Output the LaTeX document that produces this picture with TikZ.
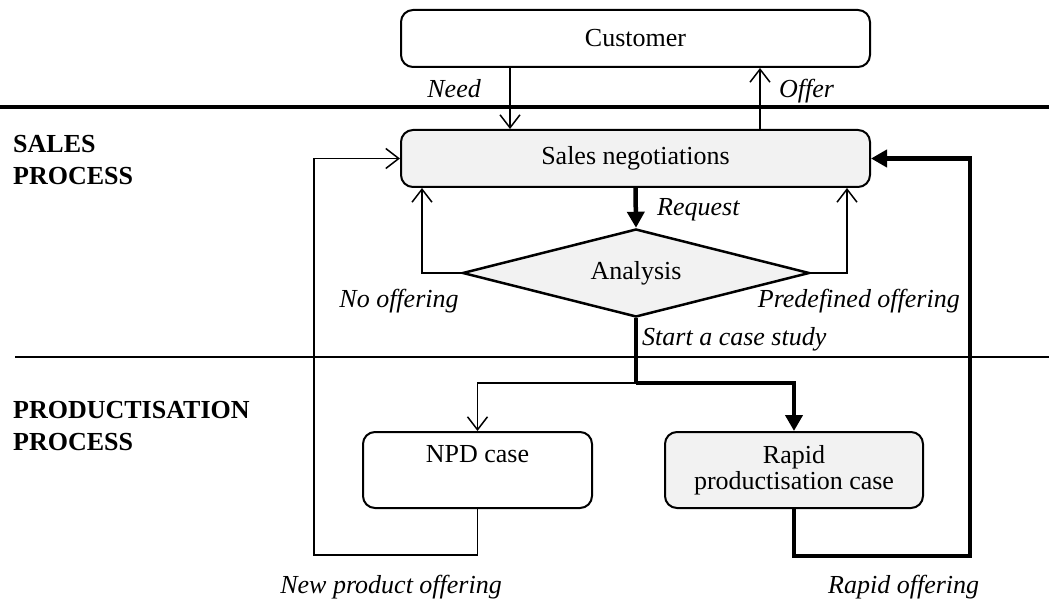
\documentclass[tikz,border=0pt]{standalone}
\usepackage{fontspec}
\setmainfont{Liberation Serif}
\usetikzlibrary{arrows.meta,shapes.geometric}

\tikzset{
  txt/.style={font=\fontsize{26}{26}\selectfont, inner sep=0pt},
  lbl/.style={txt, font=\fontsize{26}{26}\selectfont\itshape},
  head/.style={txt, font=\fontsize{26}{32}\selectfont\bfseries, align=left},
  box/.style={draw, line width=2pt, rounded corners=12pt, txt, align=center,
              minimum width=#1, minimum height=57pt},
  greybox/.style={box=#1, fill=boxgrey},
  decision/.style={diamond, draw, line width=2.5pt, fill=boxgrey, txt,
                   aspect=3.94, minimum width=347pt, minimum height=88pt},
  thin/.style={line width=1.5pt, -{Straight Barb[length=13pt,width=20pt]}},
  thinline/.style={line width=1.5pt},
  thick/.style={line width=4.5pt, -{Triangle[length=16pt,width=17pt]}},
  thickline/.style={line width=4.5pt},
}
\definecolor{boxgrey}{HTML}{F2F2F2}

\begin{document}
\begin{tikzpicture}[x=1pt, y=-1pt]
\useasboundingbox (0,0) rectangle (1049,609);

% swim-lane separators
\draw[line width=4.5pt] (0,107) -- (1049,107);
\draw[line width=2pt] (15,357) -- (1049,357);

% lane headings
\node[head, anchor=base west] (hsales1) at (13,153) {SALES};
\node[head, anchor=base west] (hsales2) at (13,185) {PROCESS};
\node[head, anchor=base west] (hprod1) at (13,418) {PRODUCTISATION};
\node[head, anchor=base west] (hprod2) at (13,450) {PROCESS};

% process nodes
\node[box=469pt] (cust) at (635.5,38.5) {Customer};
\node[greybox=469pt] (sales) at (635.5,158.5) {Sales negotiations};
\node[decision] (ana) at (636,273) {Analysis};
\node[box=229pt, minimum height=76pt] (npd) at (477.5,470) {NPD case\\[0pt]\phantom{p}};
\node[greybox=258pt, minimum height=76pt] (rapid) at (794,470) {Rapid\\[0pt]productisation case};

% routing points
\coordinate (br) at (636,383);
\coordinate (lp) at (314,555);
\coordinate (rp) at (970,556);

% customer <-> sales
\draw[thin] ([xshift=-125.5pt]cust.south) -- ([xshift=-125.5pt]sales.north);
\draw[thin] ([xshift=124.5pt]sales.north) -- ([xshift=124.5pt]cust.south);
\node[lbl, anchor=base east] (need) at (481,98) {Need};
\node[lbl, anchor=base west] (offer) at (779,98) {Offer};

% sales -> analysis
\draw[thick] (sales.south) -- (ana.north);
\node[lbl, anchor=base west] (req) at (657,216) {Request};

% analysis outcomes back to sales
\draw[thin] (ana.west) -| ([xshift=22pt]sales.south west);
\draw[thin] (ana.east) -| ([xshift=-24pt]sales.south east);
\node[lbl, anchor=base] (nooff) at (399,308) {No offering};
\node[lbl, anchor=base east] (predef) at (960,308) {Predefined offering};

% case study branches
\draw[thickline] (ana.south) -- (br);
\draw[thin] (br) -| (npd.north);
\draw[thick] (br) -| (rapid.north);
\node[lbl, anchor=base west] (start) at (642,346) {Start a case study};

% offerings back to sales
\draw[thin] (npd.south) |- (lp) |- (sales.west);
\draw[thick] (rapid.south) |- (rp) |- (sales.east);
\node[lbl, anchor=base east] (newoff) at (502,593) {New product offering};
\node[lbl, anchor=base west] (rapoff) at (828,593) {Rapid offering};
\end{tikzpicture}
\end{document}
